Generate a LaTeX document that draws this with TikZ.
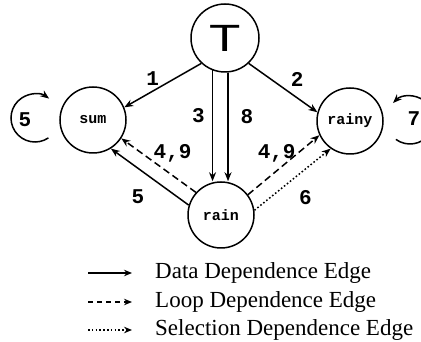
\documentclass[tikz,border=0pt]{standalone}
\usepackage{fontspec}
\setmainfont{Liberation Serif}
\newfontfamily\varfont{Liberation Mono}
\newfontfamily\topfont{Liberation Sans}
\usetikzlibrary{arrows.meta,calc}

\begin{document}
\begin{tikzpicture}[x=1pt,y=1pt,
  var/.style={draw,circle,line width=1.5pt,minimum size=66pt,inner sep=0pt,
    font=\varfont\bfseries\fontsize{15}{15}\selectfont},
  dep/.style={line width=1.5pt,-{Stealth[length=9pt,width=7pt]}},
  loopdep/.style={dep,dash pattern=on 7pt off 4pt},
  seldep/.style={dep,dash pattern=on 1.6pt off 2.2pt},
  num/.style={font=\varfont\bfseries\fontsize{21}{21}\selectfont,inner sep=1pt},
  legline/.style={line width=1.5pt,-{Stealth[length=8pt,width=6.5pt]}},
  legloop/.style={dash pattern=on 5pt off 4pt},
  legsel/.style={dash pattern=on 1.6pt off 2.2pt}]
\useasboundingbox (0,0) rectangle (421,342);
% variables
\node[var,minimum size=68pt,font=\topfont\fontsize{38}{38}\selectfont] (T) at (225,304) {\scalebox{1.35}[1]{T}};
\node[var] (sum) at (93,222) {sum};
\node[var] (rainy) at (350,221) {rainy};
\node[var] (rain) at (221,127) {rain};
% edges from T
\draw[dep] (T.227) -- node[num,xshift=-10pt,yshift=7pt] (n1) {1} (sum.22);
\draw[dep] (T.313) -- node[num,xshift=14pt,yshift=8pt] (n2) {2} (rainy.165);
\draw[dep] (T.249) -- node[num,xshift=-14pt,yshift=10pt] (n3) {3} (T.249 |- rain.north);
\draw[dep] (T.275) -- node[num,xshift=19pt,yshift=10pt] (n8) {8} (T.275 |- rain.north);
% edges from rain
\draw[loopdep] (rain.138) -- node[num,xshift=14pt,yshift=12pt] (n49a) {4,9} (sum.327);
\draw[loopdep] (rain.37) -- node[num,xshift=-7pt,yshift=12pt] (n49b) {4,9} (rainy.205);
\draw[dep] (rain.163) -- node[num,xshift=-12pt,yshift=-20pt] (n5) {5} (sum.302);
\draw[seldep] (rain.8) -- node[num,xshift=13pt,yshift=-18pt] (n6) {6} (rainy.235);
% self loops
\coordinate (sumloop) at (35,224);
\coordinate (rainyloop) at (410,222);
\draw[dep] ([shift={(-56:24)}]sumloop) arc[start angle=-56,end angle=-306,radius=24];
\draw[dep] ([shift={(234:24)}]rainyloop) arc[start angle=234,end angle=495,radius=24];
\node[num] (n5loop) at (25,222) {5};
\node[num] (n7loop) at (414,223) {7};
% legend
\foreach \y/\s/\t [count=\i] in {69/solid/Data,40/legloop/Loop,12/legsel/Selection}{
  \coordinate (ls\i) at (88,\y);
  \coordinate (le\i) at (132,\y);
  \node[anchor=base west,inner sep=0pt,font=\fontsize{23}{23}\selectfont] (leg\i) at (155,\y-6) {\t{} Dependence Edge};
  \draw[legline,\s] (ls\i) -- (le\i);
}
\end{tikzpicture}
\end{document}
